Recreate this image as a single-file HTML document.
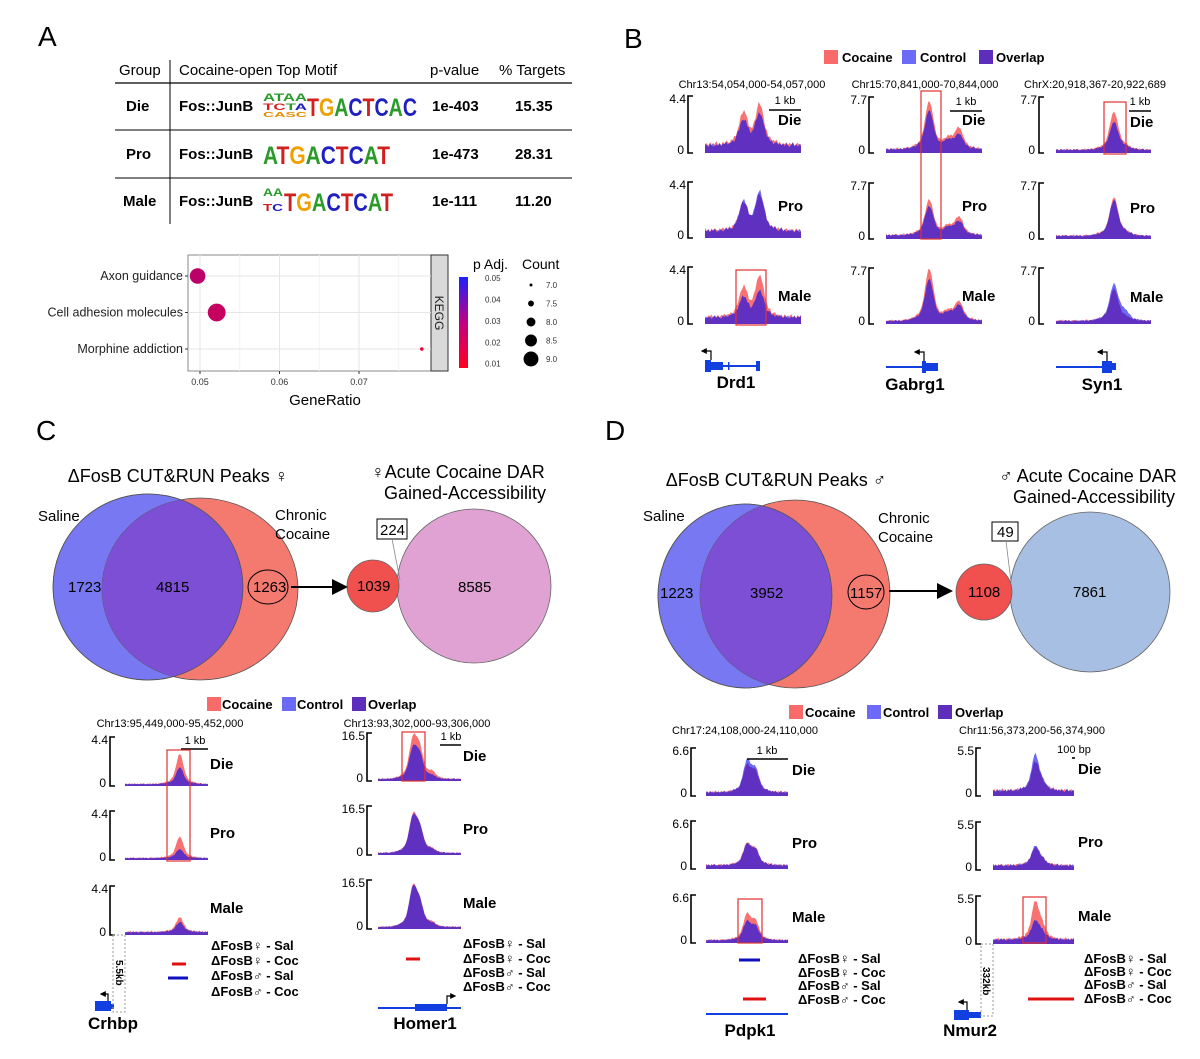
<!DOCTYPE html>
<html><head><meta charset="utf-8"><style>
html,body{margin:0;padding:0;background:#fff;}
svg{display:block;font-family:"Liberation Sans",Arial,sans-serif;}
.b{font-weight:bold;}
</style></head><body>
<svg id="fig" width="1200" height="1059" viewBox="0 0 1200 1059" xmlns="http://www.w3.org/2000/svg">
<defs>
<clipPath id="clipC"><ellipse cx="148" cy="587" rx="95" ry="93"/></clipPath>
<clipPath id="clipD"><ellipse cx="745" cy="596" rx="87" ry="92"/></clipPath>
<marker id="arr" markerWidth="8" markerHeight="8" refX="7" refY="4" orient="auto"><path d="M0,0 L8,4 L0,8 z" fill="#000"/></marker>
<marker id="arrs" markerWidth="5" markerHeight="5" refX="4" refY="2.5" orient="auto"><path d="M0,0 L5,2.5 L0,5 z" fill="#000"/></marker>
</defs>

<!-- Panel letters -->
<text x="38" y="46" font-size="28">A</text>
<text x="624" y="48" font-size="28">B</text>
<text x="36" y="440" font-size="28">C</text>
<text x="605" y="440" font-size="28">D</text>

<!-- Panel A table -->
<g font-size="15">
<text x="119" y="75">Group</text>
<text x="179" y="75">Cocaine-open Top Motif</text>
<text x="430" y="75">p-value</text>
<text x="499" y="75">% Targets</text>
<line x1="115" y1="83" x2="572" y2="83" stroke="#000" stroke-width="1.2"/>
<line x1="115" y1="130" x2="572" y2="130" stroke="#000" stroke-width="1"/>
<line x1="115" y1="178" x2="572" y2="178" stroke="#000" stroke-width="1"/>
<line x1="170" y1="60" x2="170" y2="224" stroke="#000" stroke-width="1"/>
<g class="b">
<text x="126" y="111">Die</text>
<text x="126" y="159">Pro</text>
<text x="123" y="206">Male</text>
<text x="179" y="111">Fos::JunB</text>
<text x="179" y="159">Fos::JunB</text>
<text x="179" y="206">Fos::JunB</text>
<text x="432" y="111">1e-403</text>
<text x="432" y="159">1e-473</text>
<text x="432" y="206">1e-111</text>
<text x="515" y="111">15.35</text>
<text x="515" y="159">28.31</text>
<text x="515" y="206">11.20</text>
</g>
<g font-weight="bold">
<text x="263" y="101" font-size="11" textLength="44" lengthAdjust="spacingAndGlyphs"><tspan fill="#2a9a2a">ATAA</tspan></text>
<text x="263" y="110" font-size="9" textLength="44" lengthAdjust="spacingAndGlyphs"><tspan fill="#d02020">TC</tspan><tspan fill="#2a9a2a">T</tspan><tspan fill="#2020c0">A</tspan></text>
<text x="263" y="117" font-size="7" textLength="44" lengthAdjust="spacingAndGlyphs" fill="#e08a00">CASC</text>
<text x="307" y="116" font-size="25" textLength="110" lengthAdjust="spacingAndGlyphs"><tspan fill="#d02020">T</tspan><tspan fill="#f0a000">G</tspan><tspan fill="#2a9a2a">A</tspan><tspan fill="#2020c0">C</tspan><tspan fill="#d02020">T</tspan><tspan fill="#2020c0">C</tspan><tspan fill="#2a9a2a">A</tspan><tspan fill="#2020c0">C</tspan></text>
</g>
<g font-weight="bold">
<text x="263" y="164" font-size="25" textLength="127" lengthAdjust="spacingAndGlyphs"><tspan fill="#2a9a2a">A</tspan><tspan fill="#d02020">T</tspan><tspan fill="#f0a000">G</tspan><tspan fill="#2a9a2a">A</tspan><tspan fill="#2020c0">C</tspan><tspan fill="#d02020">T</tspan><tspan fill="#2020c0">C</tspan><tspan fill="#2a9a2a">A</tspan><tspan fill="#d02020">T</tspan></text>
</g>
<g font-weight="bold">
<text x="263" y="196" font-size="11" textLength="20" lengthAdjust="spacingAndGlyphs" fill="#2a9a2a">AA</text>
<text x="263" y="211" font-size="10" textLength="20" lengthAdjust="spacingAndGlyphs"><tspan fill="#d02020">T</tspan><tspan fill="#2020c0">C</tspan></text>
<text x="284" y="211" font-size="25" textLength="109" lengthAdjust="spacingAndGlyphs"><tspan fill="#d02020">T</tspan><tspan fill="#f0a000">G</tspan><tspan fill="#2a9a2a">A</tspan><tspan fill="#2020c0">C</tspan><tspan fill="#d02020">T</tspan><tspan fill="#2020c0">C</tspan><tspan fill="#2a9a2a">A</tspan><tspan fill="#d02020">T</tspan></text>
</g>
</g>

<!-- Panel A dot plot -->
<g id="dotplot" font-size="12.5">
<rect x="188" y="255" width="243" height="116" fill="#fff" stroke="#888" stroke-width="1"/>
<rect x="431" y="255" width="17" height="116" fill="#d9d9d9" stroke="#333" stroke-width="1"/>
<text transform="translate(435,313) rotate(90)" text-anchor="middle" font-size="12" fill="#222">KEGG</text>
<text x="325" y="405" text-anchor="middle" font-size="15">GeneRatio</text>
<text x="473" y="269" font-size="14">p Adj.</text>
<text x="522" y="269" font-size="14">Count</text>
</g>

<!-- Legends for tracks -->
<g font-size="13" font-weight="bold">
<rect x="824" y="50" width="14" height="14" fill="#f96a6a"/><text x="842" y="62">Cocaine</text>
<rect x="902" y="50" width="14" height="14" fill="#6b6bf7"/><text x="920" y="62">Control</text>
<rect x="979" y="50" width="14" height="14" fill="#5d2dbb"/><text x="996" y="62">Overlap</text>
</g>
<g font-size="13" font-weight="bold">
<rect x="207" y="697" width="14" height="14" fill="#f96a6a"/><text x="222" y="709">Cocaine</text>
<rect x="282" y="697" width="14" height="14" fill="#6b6bf7"/><text x="297" y="709">Control</text>
<rect x="352" y="697" width="14" height="14" fill="#5d2dbb"/><text x="368" y="709">Overlap</text>
</g>
<g font-size="13" font-weight="bold">
<rect x="789" y="705" width="14" height="14" fill="#f96a6a"/><text x="805" y="717">Cocaine</text>
<rect x="867" y="705" width="14" height="14" fill="#6b6bf7"/><text x="883" y="717">Control</text>
<rect x="938" y="705" width="14" height="14" fill="#5d2dbb"/><text x="955" y="717">Overlap</text>
</g>

<!-- Panel C Venn -->
<g font-size="15">
<ellipse cx="148" cy="587" rx="95" ry="93" fill="#7878f2" stroke="#555" stroke-width="0.8"/>
<ellipse cx="200" cy="589" rx="98" ry="91" fill="#f47a70" stroke="#555" stroke-width="0.8"/>
<ellipse cx="200" cy="589" rx="98" ry="91" fill="#7c4fd4" clip-path="url(#clipC)"/>
<ellipse cx="148" cy="587" rx="95" ry="93" fill="none" stroke="#555" stroke-width="0.8"/>
<circle cx="474" cy="586" r="77" fill="#e0a2d2" stroke="#666" stroke-width="0.8"/>
<circle cx="373" cy="586" r="26" fill="#f0504e" stroke="#666" stroke-width="0.8"/>
<text x="178" y="482" text-anchor="middle" font-size="18">ΔFosB CUT&amp;RUN Peaks ♀</text>
<text x="38" y="521">Saline</text>
<text x="275" y="520">Chronic</text>
<text x="275" y="539">Cocaine</text>
<text x="68" y="592">1723</text>
<text x="156" y="592">4815</text>
<ellipse cx="268" cy="587" rx="20" ry="17" fill="none" stroke="#000" stroke-width="1"/>
<text x="253" y="592">1263</text>
<line x1="291" y1="587" x2="346" y2="587" stroke="#000" stroke-width="2" marker-end="url(#arr)"/>
<text x="458" y="478" text-anchor="middle" font-size="18">♀Acute Cocaine DAR</text>
<text x="465" y="499" text-anchor="middle" font-size="18">Gained-Accessibility</text>
<text x="357" y="591">1039</text>
<text x="458" y="592">8585</text>
<rect x="377" y="519" width="30" height="20" fill="#fff" stroke="#000" stroke-width="1"/>
<text x="380" y="535">224</text>
<line x1="392" y1="539" x2="400" y2="580" stroke="#888" stroke-width="0.8"/>
</g>

<!-- Panel D Venn -->
<g font-size="15">
<ellipse cx="745" cy="596" rx="87" ry="92" fill="#7878f2" stroke="#555" stroke-width="0.8"/>
<ellipse cx="795" cy="594" rx="95" ry="94" fill="#f47a70" stroke="#555" stroke-width="0.8"/>
<ellipse cx="795" cy="594" rx="95" ry="94" fill="#7c4fd4" clip-path="url(#clipD)"/>
<ellipse cx="745" cy="596" rx="87" ry="92" fill="none" stroke="#555" stroke-width="0.8"/>
<circle cx="1090" cy="592" r="80" fill="#a7bfe2" stroke="#666" stroke-width="0.8"/>
<circle cx="984" cy="592" r="28" fill="#f0504e" stroke="#666" stroke-width="0.8"/>
<text x="776" y="486" text-anchor="middle" font-size="18">ΔFosB CUT&amp;RUN Peaks ♂</text>
<text x="643" y="521">Saline</text>
<text x="878" y="523">Chronic</text>
<text x="878" y="542">Cocaine</text>
<text x="660" y="598">1223</text>
<text x="750" y="598">3952</text>
<ellipse cx="866" cy="592" rx="18" ry="17" fill="none" stroke="#000" stroke-width="1"/>
<text x="850" y="598">1157</text>
<line x1="889" y1="591" x2="951" y2="591" stroke="#000" stroke-width="2" marker-end="url(#arr)"/>
<text x="1088" y="482" text-anchor="middle" font-size="18">♂ Acute Cocaine DAR</text>
<text x="1094" y="503" text-anchor="middle" font-size="18">Gained-Accessibility</text>
<text x="968" y="597">1108</text>
<text x="1073" y="597">7861</text>
<rect x="992" y="522" width="26" height="19" fill="#fff" stroke="#000" stroke-width="1"/>
<text x="997" y="537">49</text>
<line x1="1006" y1="541" x2="1011" y2="582" stroke="#888" stroke-width="0.8"/>
</g>

<g id="tracks"></g>

<!-- gene models & annotations -->
<g fill="#1240e0" stroke="none">
<rect x="705" y="360" width="6" height="12" /><rect x="711" y="362" width="12" height="8"/><rect x="723" y="365" width="35" height="2"/><rect x="728" y="362" width="1.5" height="8"/><rect x="756" y="361" width="4" height="10"/>
<rect x="886" y="366" width="38" height="2"/><rect x="922" y="361" width="4" height="12"/><rect x="926" y="363" width="12" height="8"/>
<rect x="1056" y="366" width="46" height="2"/><rect x="1102" y="361" width="10" height="12"/><rect x="1112" y="363" width="4" height="7"/>
<rect x="95" y="1001" width="16" height="10"/><rect x="111" y="1004" width="3" height="5"/>
<rect x="378" y="1007" width="83" height="2"/><rect x="415" y="1004" width="32" height="7"/>
<rect x="706" y="1013" width="82" height="2"/>
<rect x="954" y="1010" width="15" height="10"/><rect x="969" y="1012" width="12" height="6"/>
</g>
<g stroke="#000" stroke-width="1.2" fill="none">
<path d="M711,360 V351 H702" marker-end="url(#arrs)"/>
<path d="M924,361 V352 H915" marker-end="url(#arrs)"/>
<path d="M1107,361 V352 H1098" marker-end="url(#arrs)"/>
<path d="M108,1001 V994 H101" marker-end="url(#arrs)"/>
<path d="M447,1004 V996 H455" marker-end="url(#arrs)"/>
<path d="M967,1010 V1002 H959" marker-end="url(#arrs)"/>
</g>
<g font-size="17" font-weight="bold" text-anchor="middle">
<text x="736" y="388">Drd1</text>
<text x="915" y="390">Gabrg1</text>
<text x="1102" y="390">Syn1</text>
<text x="113" y="1029">Crhbp</text>
<text x="425" y="1029">Homer1</text>
<text x="750" y="1036">Pdpk1</text>
<text x="970" y="1036">Nmur2</text>
</g>
<g font-size="10" font-weight="bold">
<rect x="113" y="935" width="12" height="77" fill="none" stroke="#999" stroke-dasharray="2,2"/>
<text transform="translate(116,960) rotate(90)">5.5kb</text>
<rect x="981" y="944" width="12" height="72" fill="none" stroke="#999" stroke-dasharray="2,2"/>
<text transform="translate(983,967) rotate(90)">332kb</text>
</g>
<g font-size="13" font-weight="bold">
<text x="211" y="950">ΔFosB♀ - Sal</text><text x="211" y="965">ΔFosB♀ - Coc</text><text x="211" y="980">ΔFosB♂ - Sal</text><text x="211" y="996">ΔFosB♂ - Coc</text>
<text x="463" y="948">ΔFosB♀ - Sal</text><text x="463" y="963">ΔFosB♀ - Coc</text><text x="463" y="977">ΔFosB♂ - Sal</text><text x="463" y="991">ΔFosB♂ - Coc</text>
<text x="798" y="963">ΔFosB♀ - Sal</text><text x="798" y="977">ΔFosB♀ - Coc</text><text x="798" y="990">ΔFosB♂ - Sal</text><text x="798" y="1004">ΔFosB♂ - Coc</text>
<text x="1084" y="963">ΔFosB♀ - Sal</text><text x="1084" y="976">ΔFosB♀ - Coc</text><text x="1084" y="989">ΔFosB♂ - Sal</text><text x="1084" y="1003">ΔFosB♂ - Coc</text>
</g>
<g stroke-width="3">
<line x1="172" y1="964" x2="186" y2="964" stroke="#e01010"/>
<line x1="168" y1="978" x2="188" y2="978" stroke="#1010c0"/>
<line x1="406" y1="959" x2="420" y2="959" stroke="#e01010"/>
<line x1="739" y1="960" x2="760" y2="960" stroke="#1010c0"/>
<line x1="743" y1="999" x2="766" y2="999" stroke="#e01010"/>
<line x1="1028" y1="999" x2="1074" y2="999" stroke="#e01010"/>
</g>

<script>
// ---------- Dot plot data ----------
const keggTerms = ["Axon guidance", "Cell adhesion molecules", "Morphine addiction"];
const geneRatios = [0.0497, 0.0521, 0.0779];
const termCounts = [8.6, 8.9, 7.0];
const termPadj = [0.015, 0.013, 0.004];
const xTicks = [0.05, 0.06, 0.07];
const padjTicks = [0.01, 0.02, 0.03, 0.04, 0.05];
const countTicks = [7.0, 7.5, 8.0, 8.5, 9.0];

// ---------- Track data (peak positions as fraction of window, heights in signal units) ----------
const drd1Pos = [0.40, 0.57];
const drd1Coc = [[2.4, 3.0], [2.1, 2.7], [2.2, 3.1]];
const drd1Ctl = [[1.9, 2.4], [2.2, 3.0], [1.5, 2.0]];
const drd1Base = [0.7, 0.65, 0.6];
const gabrg1Pos = [0.45, 0.65, 0.76];
const gabrg1Coc = [[6.5, 1.2, 2.8], [4.8, 1.0, 2.4], [7.1, 1.0, 2.6]];
const gabrg1Ctl = [[5.3, 1.0, 2.0], [4.0, 0.9, 1.9], [5.7, 0.9, 2.1]];
const gabrg1Base = [0.6, 0.6, 0.5];
const syn1Pos = [0.61, 0.72];
const syn1Coc = [[5.2, 0.3], [5.2, 0.3], [4.3, 0.3]];
const syn1Ctl = [[3.8, 0.3], [4.9, 0.3], [5.0, 1.1]];
const syn1Base = [0.5, 0.5, 0.5];
const crhbpPos = [0.66];
const crhbpCoc = [[2.7], [1.9], [1.3]];
const crhbpCtl = [[1.5], [0.8], [0.9]];
const crhbpBase = [0.2, 0.2, 0.3];
const homer1Pos = [0.42, 0.50, 0.65];
const homer1Coc = [[12.5, 9.5, 2.0], [11.5, 7.5, 1.0], [12.5, 7.0, 1.2]];
const homer1Ctl = [[9.5, 7.5, 0.8], [11.0, 7.5, 0.8], [12.0, 7.5, 0.8]];
const homer1Base = [0.8, 0.8, 0.8];
const pdpk1Pos = [0.50, 0.60];
const pdpk1Coc = [[3.4, 2.6], [2.8, 2.0], [3.3, 2.4]];
const pdpk1Ctl = [[4.1, 3.0], [2.7, 2.0], [2.4, 1.8]];
const pdpk1Base = [0.6, 0.6, 0.45];
const nmur2Pos = [0.52, 0.60];
const nmur2Coc = [[3.1, 0.8], [1.9, 0.6], [4.0, 1.4]];
const nmur2Ctl = [[4.0, 0.8], [2.1, 0.6], [2.0, 0.8]];
const nmur2Base = [0.7, 0.6, 0.6];
const trackNoise = [0.10,0.25,0.05,0.30,0.15,0.00,0.20,0.35,0.10,0.22,0.05,0.28,0.12,0.30,0.18,0.02,0.26,0.14,0.33,0.08,0.20,0.11,0.29,0.04,0.24,0.16,0.31,0.07,0.21,0.13,0.27,0.03,0.19,0.34,0.09,0.23,0.15,0.01,0.28,0.12,0.30,0.06,0.22,0.17,0.32,0.10,0.25,0.05,0.20,0.14,0.29,0.08,0.26,0.12,0.33,0.02,0.18,0.27,0.09,0.21];

const NS = "http://www.w3.org/2000/svg";
function el(tag, attrs, parent) {
  const e = document.createElementNS(NS, tag);
  for (const k in attrs) e.setAttribute(k, attrs[k]);
  parent.appendChild(e);
  return e;
}

// ---------- Dot plot ----------
(function () {
  const g = document.getElementById("dotplot");
  const x0 = 188, x1 = 431, y0 = 255, y1 = 371;
  const xs = v => 200 + (v - 0.05) / 0.01 * 79.5;
  const ys = i => 276 + i * 36.5;
  const rs = c => 1.8 + (c - 7) / 2 * 7.5;
  const col = p => { const t = Math.min(1, p / 0.05); return "rgb(" + Math.round(255 - 225 * t) + ",0," + Math.round(40 + 215 * t) + ")"; };
  [0.055, 0.065, 0.075].forEach(v => {
    const l = el("line", { x1: xs(v), x2: xs(v), y1: y0, y2: y1, stroke: "#f2f2f2" }, g);
    
    
  });
  xTicks.forEach(v => {
    const l = el("line", { x1: xs(v), x2: xs(v), y1: y0, y2: y1, stroke: "#e6e6e6" }, g);
    
    
    const tk = el("line", { x1: xs(v), x2: xs(v), y1: y1, y2: y1 + 3, stroke: "#333" }, g);
    
    
    const t = el("text", { x: xs(v), y: y1 + 14, "text-anchor": "middle", "font-size": "9", fill: "#333" }, g);
    
    
    t.textContent = v.toFixed(2);
  });
  keggTerms.forEach((n, i) => {
    const l = el("line", { x1: x0, x2: x1, y1: ys(i), y2: ys(i), stroke: "#e6e6e6" }, g);
    
    
    const tk = el("line", { x1: x0 - 3, x2: x0, y1: ys(i), y2: ys(i), stroke: "#333" }, g);
    
    
    const t = el("text", { x: x0 - 5, y: ys(i) + 4, "text-anchor": "end", "font-size": "12.5", fill: "#222" }, g);
    
    
    t.textContent = n;
  });
  geneRatios.forEach((v, i) => {
    const c = el("circle", { cx: xs(v), cy: ys(i), r: rs(termCounts[i]), fill: col(termPadj[i]) }, g);
    
    
  });
  const grad = el("linearGradient", { id: "pgrad", x1: "0", y1: "1", x2: "0", y2: "0" }, document.querySelector("defs"));
  el("stop", { offset: "0", "stop-color": "#ff0020" }, grad);
  el("stop", { offset: "0.5", "stop-color": "#c00080" }, grad);
  el("stop", { offset: "1", "stop-color": "#2020ff" }, grad);
  const cb = el("rect", { x: 459, y: 277, width: 9, height: 91, fill: "url(#pgrad)" }, g);
  
  
  padjTicks.forEach(v => {
    const t = el("text", { x: 485, y: 368 - (v - 0.008) / 0.042 * 90 + 3, "font-size": "8", fill: "#333" }, g);
    
    
    t.textContent = v.toFixed(2);
  });
  countTicks.forEach((v, i) => {
    const c = el("circle", { cx: 531, cy: 285 + i * 18.5, r: rs(v) * 0.8, fill: "#000" }, g);
    
    
    const t = el("text", { x: 546, y: 288 + i * 18.5, "font-size": "8", fill: "#333" }, g);
    
    
    t.textContent = v.toFixed(1);
  });
})();

// ---------- Tracks ----------
const tracksG = document.getElementById("tracks");
function signal(pos, hts, base, f, k) {
  let v = base * (0.7 + 1.6 * trackNoise[k % trackNoise.length]);
  pos.forEach((p, j) => {
    const d = (f - p) / 0.04;
    const d2 = (f - p) / 0.11;
    v += hts[j] * (0.8 * Math.exp(-d * d / 2) + 0.2 * Math.exp(-d2 * d2 / 2));
  });
  return v;
}
function areaPath(vals, x0, w, yb, h, max) {
  const n = vals.length;
  let d = "M" + x0 + "," + yb;
  vals.forEach((v, i) => { d += " L" + (x0 + w * i / (n - 1)).toFixed(1) + "," + (yb - Math.min(v, max) / max * h).toFixed(1); });
  return d + " L" + (x0 + w) + "," + yb + " Z";
}
function drawTrack(cfg, row, x0, yTop, yBot, bx, label, lx, ly) {
  const N = 60, w = cfg.w, h = yBot - yTop;
  const coc = [], ctl = [], ov = [];
  for (let i = 0; i < N; i++) {
    const f = i / (N - 1);
    const a = signal(cfg.pos, cfg.coc[row], cfg.base[row], f, i + row * 7);
    const b = signal(cfg.pos, cfg.ctl[row], cfg.base[row] * 0.9, f, i + row * 7 + 13);
    coc.push(a); ctl.push(b); ov.push(Math.min(a, b));
  }
  const g = el("g", {}, tracksG);
  
  
  const p1 = el("path", { d: areaPath(coc, x0, w, yBot, h, cfg.max), fill: "#f87272" }, g);
  
  
  const p2 = el("path", { d: areaPath(ctl, x0, w, yBot, h, cfg.max), fill: "#6a6af5" }, g);
  
  
  const p3 = el("path", { d: areaPath(ov, x0, w, yBot, h, cfg.max), fill: "#6030c0" }, g);
  
  
  const ax = el("path", { d: "M" + (bx + 5) + "," + yTop + " H" + bx + " V" + yBot + " H" + (bx + 5), fill: "none", stroke: "#000", "stroke-width": "1.6" }, g);
  
  
  const t1 = el("text", { x: bx - 2, y: yTop + 7, "text-anchor": "end", "font-size": "12" }, g);
  
  
  t1.textContent = cfg.maxLabel;
  const t0 = el("text", { x: bx - 4, y: yBot + 1, "text-anchor": "end", "font-size": "12" }, g);
  
  
  t0.textContent = "0";
  const tl = el("text", { x: lx, y: ly, "font-size": "15", "font-weight": "bold" }, g);
  
  
  tl.textContent = label;
}
const groups = ["Die", "Pro", "Male"];
const trackSets = [
  { name: "drd1", pos: drd1Pos, coc: drd1Coc, ctl: drd1Ctl, base: drd1Base, max: 4.4, maxLabel: "4.4", x: 705, w: 96, bx: 688, tops: [96, 182, 267], bots: [153, 238, 324], lx: 778, ly: [125, 211, 301] },
  { name: "gabrg1", pos: gabrg1Pos, coc: gabrg1Coc, ctl: gabrg1Ctl, base: gabrg1Base, max: 7.7, maxLabel: "7.7", x: 886, w: 96, bx: 869, tops: [97, 183, 268], bots: [153, 239, 324], lx: 962, ly: [125, 211, 301] },
  { name: "syn1", pos: syn1Pos, coc: syn1Coc, ctl: syn1Ctl, base: syn1Base, max: 7.7, maxLabel: "7.7", x: 1056, w: 95, bx: 1039, tops: [97, 183, 268], bots: [153, 239, 324], lx: 1130, ly: [127, 213, 302] },
  { name: "crhbp", pos: crhbpPos, coc: crhbpCoc, ctl: crhbpCtl, base: crhbpBase, max: 4.4, maxLabel: "4.4", x: 125, w: 83, bx: 110, tops: [737, 811, 886], bots: [786, 860, 935], lx: 210, ly: [769, 838, 913] },
  { name: "homer1", pos: homer1Pos, coc: homer1Coc, ctl: homer1Ctl, base: homer1Base, max: 16.5, maxLabel: "16.5", x: 378, w: 83, bx: 367, tops: [733, 806, 880], bots: [781, 855, 929], lx: 463, ly: [761, 834, 908] },
  { name: "pdpk1", pos: pdpk1Pos, coc: pdpk1Coc, ctl: pdpk1Ctl, base: pdpk1Base, max: 6.6, maxLabel: "6.6", x: 706, w: 82, bx: 691, tops: [748, 821, 895], bots: [796, 869, 943], lx: 792, ly: [775, 848, 922] },
  { name: "nmur2", pos: nmur2Pos, coc: nmur2Coc, ctl: nmur2Ctl, base: nmur2Base, max: 5.5, maxLabel: "5.5", x: 993, w: 81, bx: 976, tops: [748, 822, 896], bots: [796, 870, 944], lx: 1078, ly: [774, 847, 921] }
];
trackSets.forEach(cfg => groups.forEach((gname, r) => drawTrack(cfg, r, cfg.x, cfg.tops[r], cfg.bots[r], cfg.bx, gname, cfg.lx, cfg.ly[r])));

// ---------- Annotations ----------
const chrLabels = [["Chr13:54,054,000-54,057,000", 752, 88], ["Chr15:70,841,000-70,844,000", 925, 88], ["ChrX:20,918,367-20,922,689", 1095, 88],
  ["Chr13:95,449,000-95,452,000", 170, 727], ["Chr13:93,302,000-93,306,000", 417, 727], ["Chr17:24,108,000-24,110,000", 745, 734], ["Chr11:56,373,200-56,374,900", 1032, 734]];
chrLabels.forEach(c => {
  const t = el("text", { x: c[1], y: c[2], "text-anchor": "middle", "font-size": "11" }, tracksG);
  
  
  t.textContent = c[0];
});
const scaleBars = [[769, 801, 110, "1 kb", 785, 104], [950, 982, 111, "1 kb", 966, 105], [1129, 1151, 111, "1 kb", 1140, 105],
  [181, 208, 749, "1 kb", 195, 744], [440, 461, 745, "1 kb", 451, 740], [747, 788, 759, "1 kb", 767, 754], [1072, 1075, 758, "100 bp", 1074, 753]];
scaleBars.forEach(s => {
  const l = el("line", { x1: s[0], x2: s[1], y1: s[2], y2: s[2], stroke: "#000", "stroke-width": "1.6" }, tracksG);
  
  
  const t = el("text", { x: s[4], y: s[5], "text-anchor": "middle", "font-size": "11" }, tracksG);
  
  
  t.textContent = s[3];
});
const boxes = [[921, 91, 20, 148], [736, 270, 30, 55], [1104, 102, 22, 52], [167, 750, 23, 111], [402, 732, 23, 49], [738, 899, 24, 44], [1023, 897, 23, 46]];
boxes.forEach(b => {
  const r = el("rect", { x: b[0], y: b[1], width: b[2], height: b[3], fill: "none", stroke: "#e03030", "stroke-width": "1.2" }, tracksG);
  
  
});
</script>
</svg>
</body></html>
